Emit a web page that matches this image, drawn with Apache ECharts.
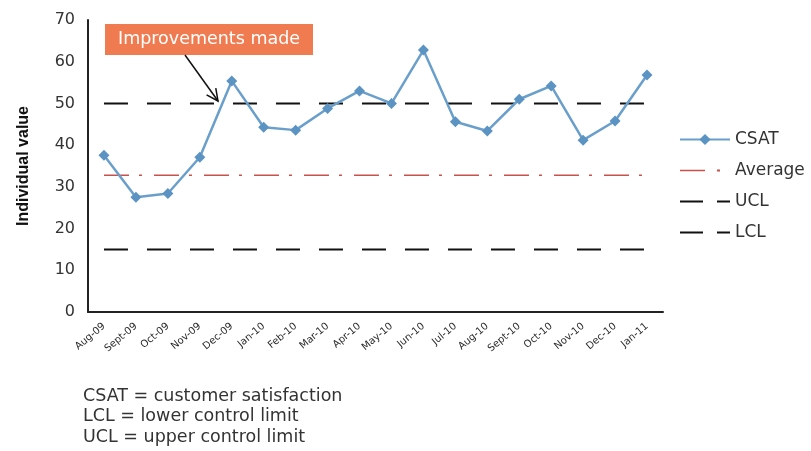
<!DOCTYPE html>
<html>
<head>
<meta charset="utf-8">
<script src="https://cdn.jsdelivr.net/npm/echarts@6/dist/echarts.min.js"></script>
<style>
  html, body { margin: 0; padding: 0; background: #fff; }
  #chart { width: 811px; height: 451px; }
</style>
</head>
<body>
<div id="chart"></div>
<script>
// Monthly customer satisfaction readings with control limits
const months = ['Aug-09', 'Sept-09', 'Oct-09', 'Nov-09', 'Dec-09', 'Jan-10', 'Feb-10', 'Mar-10', 'Apr-10',
  'May-10', 'Jun-10', 'Jul-10', 'Aug-10', 'Sept-10', 'Oct-10', 'Nov-10', 'Dec-10', 'Jan-11'];
const csat = [37.6, 27.5, 28.4, 37.1, 55.4, 44.3, 43.6, 48.8, 53.0, 50.0, 62.8, 45.6, 43.4, 51.0, 54.2, 41.2, 45.8, 56.8];
const averageValue = 32.8;
const uclValue = 50;
const lclValue = 15;
const yTicks = [0, 10, 20, 30, 40, 50, 60, 70];
const footnotes = ['CSAT = customer satisfaction', 'LCL = lower control limit', 'UCL = upper control limit'];

const FONT = '"DejaVu Sans", "Liberation Sans", sans-serif';
const BOLD_FONT = '"Liberation Sans", Arial, sans-serif';
const flat = v => months.map(() => v);

// Legend icons for the reference lines: a 50x14 box holding the dash pattern.
// The two zero-size corner sub-paths pin the bounding box so the icon is not rescaled.
const PIN = 'M0,0 L0,0 Z M50,14 L50,14 Z ';
const dashIcon = 'path://' + PIN + 'M0,6 h23 v2 h-23 Z M37,6 h13 v2 h-13 Z';
const dashDotIcon = 'path://' + PIN + 'M0,6.25 h25 v1.5 h-25 Z M37,6 h3 v2 h-3 Z';

const chart = echarts.init(document.getElementById('chart'), null, { renderer: 'canvas' });

// annotation arrow pieces
const arrowFrom = [185, 55], arrowTo = [218, 101];
const dx = arrowTo[0] - arrowFrom[0], dy = arrowTo[1] - arrowFrom[1];
const len = Math.hypot(dx, dy), ux = dx / len, uy = dy / len;
const headLen = 13, headAng = 0.45;
const head = s => {
  const c = Math.cos(s * headAng), sn = Math.sin(s * headAng);
  const bx = -ux * c + uy * sn, by = -ux * sn - uy * c;
  return [arrowTo[0] + bx * headLen, arrowTo[1] + by * headLen];
};

const option = {
  backgroundColor: '#ffffff',
  animation: false,
  textStyle: { fontFamily: FONT },
  grid: { left: 88, top: 20, width: 575, height: 292, containLabel: false },
  legend: {
    orient: 'vertical',
    left: 679,
    top: 131,
    padding: 0,
    itemGap: 14,
    itemWidth: 50,
    itemHeight: 14,
    textStyle: { fontSize: 17, color: '#333', fontFamily: FONT },
    itemStyle: { borderWidth: 0 },
    data: [
      { name: 'CSAT' },
      { name: 'Average', icon: dashDotIcon },
      { name: 'UCL', icon: dashIcon },
      { name: 'LCL', icon: dashIcon }
    ]
  },
  xAxis: {
    type: 'category',
    data: months,
    boundaryGap: true,
    axisLine: { lineStyle: { color: '#222', width: 2 } },
    axisTick: { show: false },
    axisLabel: { rotate: 40, fontSize: 10, color: '#2a2a2a', margin: 13, interval: 0, fontFamily: FONT }
  },
  yAxis: {
    type: 'value',
    min: yTicks[0],
    max: yTicks[yTicks.length - 1],
    interval: 10,
    name: 'Individual value',
    nameLocation: 'middle',
    nameGap: 56,
    nameRotate: 90,
    nameTextStyle: { fontSize: 16, fontWeight: 'bold', color: '#111', fontFamily: BOLD_FONT },
    axisLine: { show: true, lineStyle: { color: '#222', width: 2 } },
    axisTick: { show: false },
    splitLine: { show: false },
    axisLabel: { fontSize: 16, color: '#333', margin: 13, fontFamily: FONT }
  },
  series: [
    {
      name: 'CSAT', type: 'line', data: csat,
      symbol: 'diamond', symbolSize: 11,
      itemStyle: { color: '#5b93c2' },
      lineStyle: { color: '#6a9fcb', width: 2.5 },
      z: 5
    },
    {
      name: 'Average', type: 'line', data: flat(averageValue),
      symbol: 'none',
      itemStyle: { color: '#c9514c' },
      lineStyle: { color: '#c9514c', width: 1.5, type: [25, 10, 3, 12] }
    },
    {
      name: 'UCL', type: 'line', data: flat(uclValue),
      symbol: 'none',
      itemStyle: { color: '#111' },
      lineStyle: { color: '#111', width: 2, type: [24, 19] }
    },
    {
      name: 'LCL', type: 'line', data: flat(lclValue),
      symbol: 'none',
      itemStyle: { color: '#111' },
      lineStyle: { color: '#111', width: 2, type: [24, 19] }
    }
  ],
  graphic: [
    {
      type: 'rect', left: 105, top: 24, z: 10,
      shape: { width: 208, height: 31 },
      style: { fill: '#f07b50' }
    },
    {
      type: 'text', z: 11, x: 209, y: 39.5,
      style: { text: 'Improvements made', fill: '#fff', font: '17.5px ' + FONT, align: 'center', verticalAlign: 'middle' }
    },
    {
      type: 'line', z: 10,
      shape: { x1: arrowFrom[0], y1: arrowFrom[1], x2: arrowTo[0], y2: arrowTo[1] },
      style: { stroke: '#111', lineWidth: 1.5 }
    },
    {
      type: 'polyline', z: 10,
      shape: { points: [head(1), arrowTo, head(-1)] },
      style: { stroke: '#111', lineWidth: 1.5, fill: null }
    },
    ...footnotes.map((t, i) => ({
      type: 'text', x: 83, y: 396 + i * 20.5,
      style: { text: t, fill: '#333', font: '17.5px ' + FONT, verticalAlign: 'middle' }
    }))
  ]
};

chart.setOption(option);
</script>
</body>
</html>
